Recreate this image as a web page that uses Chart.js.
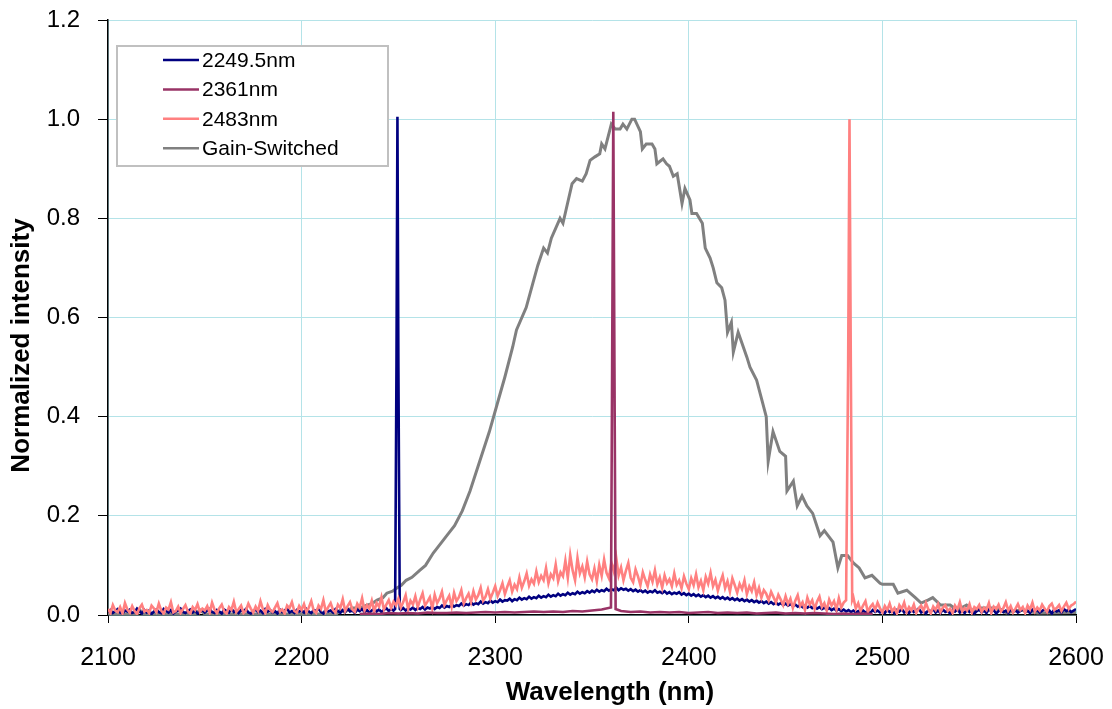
<!DOCTYPE html>
<html lang="en">
<head>
<meta charset="UTF-8">
<title>Normalized intensity vs wavelength</title>
<script src="https://cdn.jsdelivr.net/npm/chart.js"></script>
<style>
  body { margin: 0; background: #fff; }
</style>
</head>
<body>
<canvas id="chart" width="1112" height="709"></canvas>
<script>
// Series names (legend order)
const seriesNames = ['2249.5nm', '2361nm', '2483nm', 'Gain-Switched'];
const seriesColors = ['#000080', '#993366', '#ff8080', '#808080'];
const xTitle = 'Wavelength (nm)';
const yTitle = 'Normalized intensity';

// Noise baselines of the two tuned lines, sampled every 1.25 nm from 2100 nm
const noiseStart = 2100;
const noiseStep = 1.25;

const blueBase = [
  0.006,0.010,0.004,0.008,0.012,0.005,0.003,0.009,0.007,0.011,0.004,0.006,0.013,0.008,0.003,0.010,0.005,0.009,0.002,0.007,
  0.011,0.006,0.004,0.012,0.008,0.005,0.010,0.003,0.007,0.009,0.013,0.006,0.004,0.008,0.011,0.005,0.009,0.003,0.007,0.010,
  0.005,0.009,0.012,0.006,0.004,0.010,0.007,0.003,0.011,0.008,0.005,0.013,0.006,0.009,0.004,0.010,0.007,0.012,0.005,0.003,
  0.008,0.011,0.006,0.009,0.004,0.012,0.007,0.010,0.005,0.008,0.003,0.011,0.006,0.009,0.013,0.005,0.008,0.004,0.010,0.007,
  0.009,0.005,0.012,0.007,0.004,0.010,0.008,0.013,0.006,0.003,0.011,0.007,0.009,0.005,0.012,0.008,0.004,0.010,0.006,0.013,
  0.007,0.009,0.004,0.011,0.008,0.012,0.006,0.010,0.005,0.009,0.013,0.007,0.011,0.006,0.010,0.014,0.008,0.012,0.009,0.011,
  0.012,0.010,0.014,0.009,0.013,0.011,0.015,0.010,0.014,0.012,0.016,0.011,0.015,0.013,0.017,0.012,0.016,0.014,0.019,0.015,
  0.018,0.016,0.021,0.017,0.020,0.018,0.023,0.019,0.022,0.020,0.025,0.021,0.024,0.022,0.027,0.023,0.026,0.024,0.029,0.025,
  0.028,0.026,0.031,0.027,0.030,0.029,0.033,0.028,0.032,0.030,0.035,0.031,0.034,0.032,0.037,0.033,0.036,0.034,0.039,0.035,
  0.038,0.036,0.041,0.037,0.040,0.038,0.043,0.039,0.042,0.040,0.045,0.041,0.044,0.042,0.047,0.043,0.046,0.044,0.048,0.045,
  0.049,0.046,0.051,0.047,0.050,0.048,0.053,0.049,0.052,0.050,0.055,0.050,0.054,0.051,0.053,0.049,0.052,0.048,0.051,0.047,
  0.050,0.046,0.049,0.045,0.048,0.046,0.050,0.045,0.047,0.044,0.048,0.043,0.046,0.042,0.045,0.043,0.046,0.041,0.044,0.040,
  0.043,0.039,0.042,0.038,0.041,0.037,0.040,0.036,0.039,0.035,0.038,0.034,0.037,0.033,0.036,0.032,0.035,0.031,0.034,0.030,
  0.033,0.029,0.032,0.028,0.031,0.027,0.030,0.026,0.029,0.025,0.028,0.024,0.027,0.023,0.026,0.022,0.025,0.021,0.024,0.020,
  0.023,0.019,0.022,0.018,0.021,0.017,0.020,0.016,0.019,0.015,0.018,0.014,0.017,0.013,0.016,0.012,0.015,0.011,0.014,0.010,
  0.013,0.009,0.012,0.008,0.011,0.007,0.010,0.006,0.009,0.005,0.008,0.004,0.009,0.005,0.008,0.004,0.010,0.006,0.009,0.005,
  0.008,0.004,0.011,0.006,0.009,0.003,0.010,0.007,0.012,0.005,0.008,0.004,0.011,0.006,0.009,0.013,0.005,0.008,0.003,0.010,
  0.007,0.012,0.005,0.009,0.004,0.011,0.006,0.008,0.003,0.010,0.007,0.012,0.005,0.009,0.004,0.011,0.006,0.010,0.003,0.008,
  0.011,0.005,0.009,0.004,0.012,0.007,0.010,0.003,0.008,0.011,0.006,0.009,0.004,0.012,0.007,0.010,0.005,0.008,0.013,0.006,
  0.009,0.004,0.011,0.007,0.010,0.005,0.008,0.012,0.006,0.009,0.003,0.011,0.007,0.010,0.005,0.012,0.008,0.011,0.006,0.009,
  0.012
];
const bluePeakX = [2248.3, 2249.0, 2249.5, 2250.0, 2250.7];
const bluePeakY = [0.012, 0.50, 1.005, 0.50, 0.012];

const pinkBase = [
  0.012,0.004,0.020,0.009,0.006,0.016,0.003,0.024,0.011,0.005,0.018,0.008,0.002,0.014,0.021,0.007,0.010,0.004,0.019,0.013,
  0.006,0.023,0.009,0.003,0.015,0.011,0.026,0.005,0.008,0.017,0.004,0.012,0.020,0.007,0.003,0.016,0.010,0.022,0.006,0.013,
  0.009,0.018,0.005,0.025,0.011,0.004,0.014,0.021,0.007,0.003,0.016,0.010,0.027,0.006,0.012,0.019,0.004,0.009,0.023,0.013,
  0.005,0.017,0.008,0.028,0.012,0.004,0.020,0.010,0.006,0.015,0.024,0.007,0.011,0.003,0.019,0.014,0.026,0.008,0.005,0.018,
  0.010,0.022,0.006,0.015,0.028,0.009,0.004,0.019,0.012,0.030,0.007,0.016,0.024,0.010,0.005,0.021,0.014,0.032,0.008,0.018,
  0.026,0.011,0.006,0.023,0.015,0.034,0.009,0.020,0.013,0.029,0.007,0.024,0.017,0.036,0.011,0.021,0.030,0.014,0.027,0.019,
  0.033,0.015,0.026,0.040,0.012,0.029,0.021,0.038,0.016,0.031,0.044,0.019,0.027,0.036,0.013,0.041,0.024,0.033,0.047,0.020,
  0.030,0.039,0.017,0.045,0.028,0.036,0.050,0.023,0.034,0.043,0.026,0.048,0.031,0.040,0.055,0.029,0.037,0.052,0.033,0.045,
  0.058,0.038,0.050,0.064,0.042,0.057,0.070,0.047,0.061,0.052,0.076,0.055,0.068,0.084,0.059,0.072,0.063,0.088,0.066,0.079,
  0.070,0.095,0.064,0.082,0.074,0.102,0.068,0.086,0.078,0.110,0.075,0.121,0.090,0.070,0.115,0.084,0.098,0.076,0.108,0.082,
  0.072,0.094,0.068,0.101,0.079,0.112,0.085,0.074,0.106,0.088,0.116,0.080,0.096,0.070,0.089,0.105,0.075,0.066,0.092,0.078,
  0.060,0.086,0.071,0.058,0.082,0.067,0.090,0.062,0.076,0.055,0.080,0.064,0.072,0.058,0.084,0.061,0.070,0.054,0.078,0.063,
  0.052,0.074,0.060,0.082,0.056,0.069,0.050,0.077,0.063,0.085,0.058,0.071,0.049,0.066,0.080,0.054,0.068,0.047,0.074,0.060,
  0.045,0.063,0.052,0.070,0.042,0.058,0.048,0.066,0.040,0.055,0.035,0.050,0.043,0.030,0.047,0.036,0.025,0.041,0.031,0.020,
  0.038,0.022,0.033,0.014,0.029,0.040,0.018,0.026,0.010,0.035,0.021,0.030,0.012,0.027,0.037,0.016,0.024,0.009,0.031,0.019,
  0.028,0.011,0.034,0.015,0.025,0.030,0.020,0.022,0.036,0.013,0.024,0.008,0.019,0.028,0.006,0.016,0.022,0.010,0.025,0.014,
  0.005,0.018,0.010,0.023,0.007,0.014,0.003,0.020,0.012,0.025,0.006,0.016,0.009,0.021,0.004,0.013,0.019,0.008,0.024,0.011,
  0.003,0.017,0.010,0.022,0.006,0.015,0.020,0.008,0.013,0.004,0.019,0.011,0.026,0.007,0.014,0.009,0.022,0.005,0.016,0.012,
  0.020,0.006,0.015,0.010,0.024,0.004,0.017,0.012,0.021,0.007,0.014,0.026,0.009,0.018,0.005,0.013,0.022,0.010,0.016,0.004,
  0.019,0.011,0.025,0.007,0.015,0.009,0.021,0.013,0.006,0.018,0.023,0.010,0.014,0.020,0.008,0.017,0.025,0.012,0.019,0.022,
  0.027
];
const pinkPeakX = [2481.6, 2482.3, 2483.0, 2483.7, 2484.4];
const pinkPeakY = [0.03, 0.50, 1.0, 0.50, 0.03];

// 2361 nm line: flat baseline every 5 nm from 2230 nm
const plumStart = 2230;
const plumStep = 5;
const plumBase = [
  0.002,0.003,0.002,0.004,0.003,0.004,0.003,0.005,0.004,0.004,0.005,0.004,0.005,0.006,0.005,0.006,0.005,0.006,0.007,0.006,
  0.007,0.006,0.008,0.007,0.009,0.011,0.012,0.008,
  0.006,0.007,0.005,0.006,0.005,0.006,0.004,0.005,0.006,0.004,0.005,0.004,0.005,0.003,0.004,0.005,0.003,0.004,0.003,0.004,
  0.003,0.002,0.003,0.002,0.003,0.002
];
const plumPeakX = [2359.8, 2360.4, 2361.0, 2361.6, 2362.2];
const plumPeakY = [0.015, 0.50, 1.015, 0.50, 0.012];

// Gain-switched spectrum
const gainX = [2100,2115,2116.5,2118,2145,2147.5,2150,2218,2220,2222,
  2226,2230,2233.6,2236,2239,2242,2244,2247,2249,2251.5,
  2254,2257,2261,2264,2268,2270,2273,2276,2279,2283,
  2287,2292,2297,2301,2305,2309,2311,2316,2319.5,2322,
  2325,2327,2329,2333.5,2335,2339.7,2342,2345,2347,2349,
  2351.5,2354,2355,2356.7,2360,2362,2364.5,2366,2368,2370.6,
  2372,2375,2376,2378,2381,2382.5,2383.5,2386.7,2388.5,2390,
  2392,2394,2396.5,2398,2400.6,2401.6,2404,2407,2408.5,2411,
  2412.6,2414.5,2417,2418.7,2420,2422,2423,2425.5,2430,2431.6,
  2435,2438,2440,2441,2443.5,2447,2450,2450.7,2454,2456,
  2458.5,2461,2464,2467.8,2470,2474.5,2477,2479,2482,2485,
  2488,2491,2494.6,2498.8,2500,2505.6,2508,2512.6,2517,2520,
  2523.5,2526,2530,2535,2538.5,2543.5,2547,2550,2559,2564,
  2571,2580,2600];
const gainY = [0.002,0.002,0.010,0.002,0.002,0.010,0.002,0.002,0.010,0.006,
  0.014,0.014,0.020,0.022,0.030,0.035,0.044,0.048,0.054,0.060,
  0.070,0.076,0.090,0.100,0.125,0.135,0.150,0.165,0.180,0.210,
  0.250,0.310,0.370,0.425,0.480,0.540,0.575,0.620,0.670,0.705,
  0.740,0.730,0.760,0.800,0.790,0.870,0.880,0.875,0.890,0.917,
  0.924,0.930,0.950,0.940,0.990,0.980,0.980,0.990,0.980,1.000,
  1.000,0.975,0.940,0.950,0.950,0.940,0.910,0.920,0.910,0.905,
  0.885,0.890,0.830,0.860,0.837,0.810,0.810,0.790,0.740,0.720,
  0.700,0.670,0.660,0.635,0.570,0.590,0.530,0.570,0.520,0.500,
  0.474,0.430,0.400,0.310,0.370,0.330,0.320,0.250,0.270,0.220,
  0.240,0.220,0.205,0.160,0.170,0.147,0.095,0.120,0.120,0.105,
  0.095,0.075,0.080,0.064,0.062,0.062,0.044,0.050,0.035,0.024,
  0.030,0.035,0.020,0.020,0.010,0.020,0.006,0.014,0.014,0.004,
  0.010,0.004,0.005];

// merge a regular baseline with its narrow peak
function buildSeries(start, step, base, peakX, peakY) {
  const lo = peakX[0], hi = peakX[peakX.length - 1];
  const pts = base.map((v, i) => ({ x: start + i * step, y: v }))
    .filter(p => p.x < lo || p.x > hi);
  peakX.forEach((x, i) => pts.push({ x: x, y: peakY[i] }));
  return pts.sort((a, b) => a.x - b.x);
}

const FONT = '"Liberation Sans", Arial, sans-serif';

// legend inside the plot area (top-left) and the two axis titles
const chartDecor = {
  id: 'chartDecor',
  afterDraw(chart) {
    const ctx = chart.ctx;
    const area = chart.chartArea;
    const left = area.left + 9, top = area.top + 26;
    ctx.save();
    ctx.fillStyle = '#ffffff';
    ctx.fillRect(left, top, 271, 120);
    ctx.strokeStyle = '#c0c0c0';
    ctx.lineWidth = 2;
    ctx.strokeRect(left, top, 271, 120);
    ctx.font = '21px ' + FONT;
    ctx.textBaseline = 'middle';
    chart.data.datasets.forEach((d, i) => {
      const y = top + 14 + i * 29.4;
      ctx.strokeStyle = d.borderColor;
      ctx.lineWidth = 2.5;
      ctx.beginPath();
      ctx.moveTo(left + 46, y);
      ctx.lineTo(left + 82, y);
      ctx.stroke();
      ctx.fillStyle = '#000';
      ctx.fillText(d.label, left + 85, y + 1);
    });

    // axis titles (sit a little off-centre, as in the original)
    ctx.fillStyle = '#000';
    ctx.font = 'bold 26px ' + FONT;
    ctx.textAlign = 'center';
    ctx.fillText(xTitle, (area.left + area.right) / 2 + 18, 693);
    ctx.translate(22, (area.top + area.bottom) / 2 + 28);
    ctx.rotate(-Math.PI / 2);
    ctx.fillText(yTitle, 0, 0);
    ctx.restore();
  }
};

const gainPts = gainX.map((x, i) => ({ x: x, y: gainY[i] }));

new Chart(document.getElementById('chart'), {
  type: 'line',
  data: {
    datasets: [
      { label: seriesNames[0], data: buildSeries(noiseStart, noiseStep, blueBase, bluePeakX, bluePeakY), borderColor: seriesColors[0], order: 3 },
      { label: seriesNames[1], data: buildSeries(plumStart, plumStep, plumBase, plumPeakX, plumPeakY), borderColor: seriesColors[1], order: 1 },
      { label: seriesNames[2], data: buildSeries(noiseStart, noiseStep, pinkBase, pinkPeakX, pinkPeakY), borderColor: seriesColors[2], order: 2 },
      { label: seriesNames[3], data: gainPts, borderColor: seriesColors[3], order: 4, borderWidth: 3 }
    ]
  },
  options: {
    responsive: false,
    animation: false,
    layout: { padding: { top: 20, right: 36, left: 0, bottom: 0 } },
    elements: {
      point: { radius: 0 },
      line: { borderWidth: 2.6, tension: 0, fill: false }
    },
    plugins: {
      legend: { display: false },
      tooltip: { enabled: false }
    },
    scales: {
      x: {
        type: 'linear',
        min: 2100,
        max: 2600,
        afterFit: s => { s.height = 94; s.paddingLeft = 0; s.paddingRight = 0; },
        ticks: {
          stepSize: 100,
          color: '#000',
          padding: 20,
          font: { family: FONT, size: 25 },
          callback: v => String(v)
        },
        grid: { color: '#b4e3e8', tickColor: '#000', tickLength: 8 },
        border: { color: '#000', width: 1.5 },
        title: { display: false }
      },
      y: {
        min: 0,
        max: 1.2,
        afterFit: s => { s.width = 108; s.paddingTop = 0; s.paddingBottom = 0; },
        ticks: {
          stepSize: 0.2,
          color: '#000',
          padding: 18,
          font: { family: FONT, size: 24 },
          callback: v => v.toFixed(1)
        },
        grid: { color: '#b4e3e8', tickColor: '#000', tickLength: 10 },
        border: { color: '#000', width: 1.5 },
        title: { display: false }
      }
    }
  },
  plugins: [chartDecor]
});
</script>
</body>
</html>
